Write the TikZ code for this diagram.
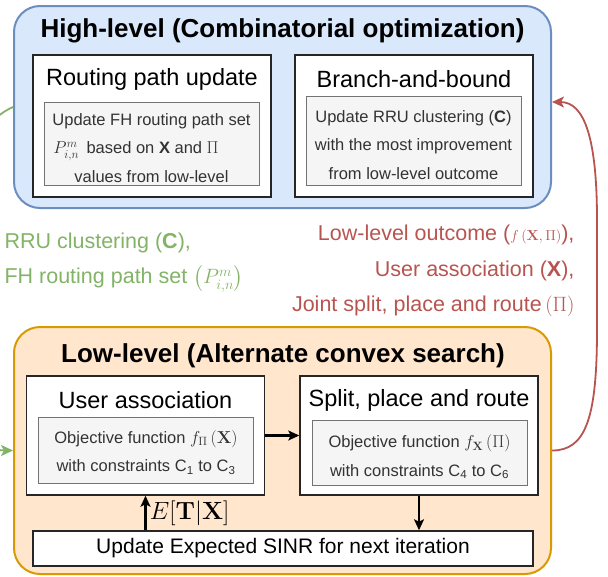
\documentclass[tikz,border=0pt]{standalone}
\usepackage{amsmath}
\usepackage{amssymb}
\usepackage[no-math]{fontspec}
\setmainfont{Liberation Sans}
\usepackage{tikz}
\usetikzlibrary{arrows.meta}

\definecolor{hifill}{HTML}{DAE8FC}
\definecolor{hiline}{HTML}{6C8EBF}
\definecolor{lofill}{HTML}{FFE6CC}
\definecolor{loline}{HTML}{D79B00}
\definecolor{flowred}{HTML}{B85450}
\definecolor{flowgreen}{HTML}{82B366}

\begin{document}
\begin{tikzpicture}[x=1pt,y=-1pt,
        level/.style={draw,line width=2pt,rounded corners=26pt,inner sep=0pt,minimum width=537pt},
        block/.style={draw=black!85,fill=white,line width=1.5pt,inner sep=0pt,minimum width=238pt},
        inner/.style={draw=black!55,fill=black!4,line width=1pt,inner sep=0pt,minimum width=215pt,text=black!80,align=center,font=\fontsize{16.5}{28.5}\selectfont},
        heading/.style={font=\bfseries\fontsize{26}{30}\selectfont},
        title/.style={font=\fontsize{23.5}{28}\selectfont},
        arr/.style={-{Stealth[length=11pt,width=10pt,inset=2.5pt]},line width=2.2pt},
        flow/.style={-{Stealth[length=12pt,width=11pt,inset=3pt]},line width=1.8pt},
        flowtext/.style={font=\fontsize{21.5}{35.5}\selectfont}]
        \useasboundingbox (0,0) rectangle (608,576);

        \node[level,draw=hiline,fill=hifill,minimum height=202pt] (high) at (282.5,107) {};
        \node[heading] (hightitle) at (282.5,31) {High-level (Combinatorial optimization)};

        \node[block,minimum height=142pt] (route) at (152,126) {};
        \node[title] (routetitle) at (152,79) {Routing path update};
        \node[inner,minimum height=83pt] (routetext) at (151.5,143.5) {\rule{0pt}{21pt}Update FH routing path set\\ \makebox[198pt][l]{\hspace*{1pt}$P^m_{i,n}$\, based on \textbf{X} and $\Pi$}\\ values from low-level};

        \node[block,minimum height=142pt] (bnb) at (414,126) {};
        \node[title] (bnbtitle) at (414,79) {Branch-and-bound};
        \node[inner,minimum height=89pt] (bnbtext) at (413.5,140.5) {\rule{0pt}{21pt}Update RRU clustering (\textbf{C})\\ with the most improvement\\ from low-level outcome};

        \node[level,draw=loline,fill=lofill,minimum height=247pt] (low) at (282.5,450.5) {};
        \node[heading] (lowtitle) at (283,356) {Low-level (Alternate convex search)};

        \node[block,minimum height=119pt] (user) at (145.5,435.5) {};
        \node[title] (usertitle) at (145.5,400) {User association};
        \node[inner,minimum height=66pt] (usertext) at (146,450) {\rule{0pt}{18pt}Objective function $f_{\Pi}\left(\mathbf{X}\right)$\\ with constraints C\textsubscript{1} to C\textsubscript{3}};

        \node[block,minimum height=119pt] (split) at (419,435.5) {};
        \node[title] (splittitle) at (419,400) {Split, place and route};
        \node[inner,minimum height=65pt] (splittext) at (419.5,452.5) {\rule{0pt}{22pt}Objective function $f_{\mathbf{X}}\left(\Pi\right)$\\ with constraints C\textsubscript{4} to C\textsubscript{6}};

        \node[block,minimum width=500pt,minimum height=35pt,font=\fontsize{21}{25}\selectfont] (sinr) at (283,548.5) {Update Expected SINR for next iteration};

        \draw[arr] (user.east) -- (split.west);
        \draw[arr] (split.south) -- (sinr.north -| split.south);
        \draw[arr] (sinr.north -| user.south) -- node[right,font=\fontsize{24.5}{24.5}\selectfont] {$E[\mathbf{T}|\mathbf{X}]$} (user.south);

        \node[flowtext,text=flowgreen,anchor=west,align=left] (greenlabel) at (1,262.5) {RRU clustering (\textbf{C}),\\ FH routing path set $\left(P^m_{i,n}\right)$};
        \node[flowtext,text=flowred,anchor=east,align=right] (redlabel) at (578,271) {Low-level outcome ({\fontsize{15}{15}\selectfont$f\left(\mathbf{X},\Pi\right)$}),\\ User association (\textbf{X}),\\ Joint split, place and route\,$\left(\Pi\right)$};

        \draw[flow,flowred] (low.east) .. controls +(33,0) and +(0,90) .. (597,330) -- (597,220) .. controls +(0,-80) and +(33,0) .. ([yshift=5pt]high.east);
        \draw[flow,flowgreen] (high.west) .. controls +(-24,11) and +(0,-80) .. (-31,220) -- (-31,330) .. controls +(0,90) and +(-33,0) .. (low.west);
    \end{tikzpicture}
\end{document}
